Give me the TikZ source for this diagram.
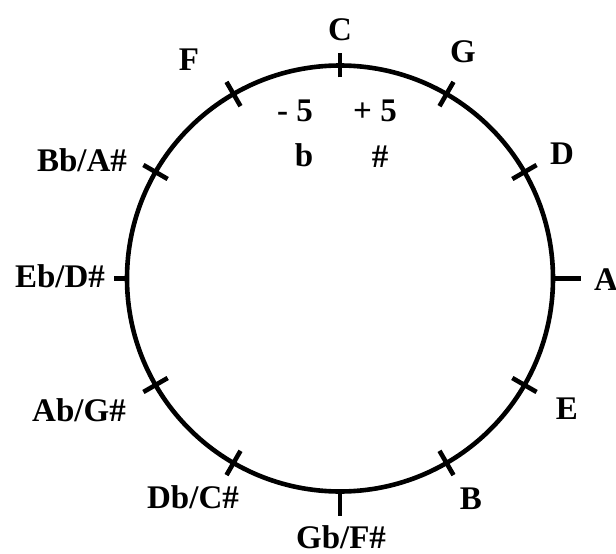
\documentclass[tikz,border=0pt]{standalone}
\usepackage{tikz}
\usetikzlibrary{calc}
\usepackage{fontspec}
\setmainfont{Liberation Serif}

\begin{document}
\begin{tikzpicture}[x=0.5pt,y=0.5pt,
        note/.style={font=\fontsize{16.5}{19}\selectfont\bfseries,inner sep=0pt}]
        \useasboundingbox (0,0) rectangle (616,553);
        \coordinate (ctr) at (340,274.5);
        \draw[line width=2.3pt] (ctr) circle (213);
        % ticks: angle / inside / outside
        \foreach \a/\i/\o in {90/12/12, 60/14/14, 30/14/14, 0/0/28, -30/14/14, -60/14/14,
                              -90/0/24, -120/14/14, -150/14/14, 180/0/13, 150/14/14, 120/14/14} {
            \draw[line width=2.3pt] ($(ctr)+(\a:213-\i)$) -- ($(ctr)+(\a:213+\o)$);
        }
        \foreach \nm/\x/\y/\lbl in {c/340/523/C, g/463/501/G, d/562/399/D, a/606/273/A,
                                    e/567/144/E, b/471/54/B, gb/341/16/{Gb/F\#}, db/193/56/{Db/C\#},
                                    ab/79/143/{Ab/G\#}, eb/60/277/{Eb/D\#}, bb/82/393/{Bb/A\#}, f/189/493/F} {
            \node[note] (\nm) at (\x,\y) {\lbl};
        }
        \node[note] (minus) at (295,442) {- 5};
        \node[note] (plus) at (375,442) {+ 5};
        \node[note] (flat) at (304,398) {b};
        \node[note] (sharp) at (380,396) {\#};
    \end{tikzpicture}
\end{document}
